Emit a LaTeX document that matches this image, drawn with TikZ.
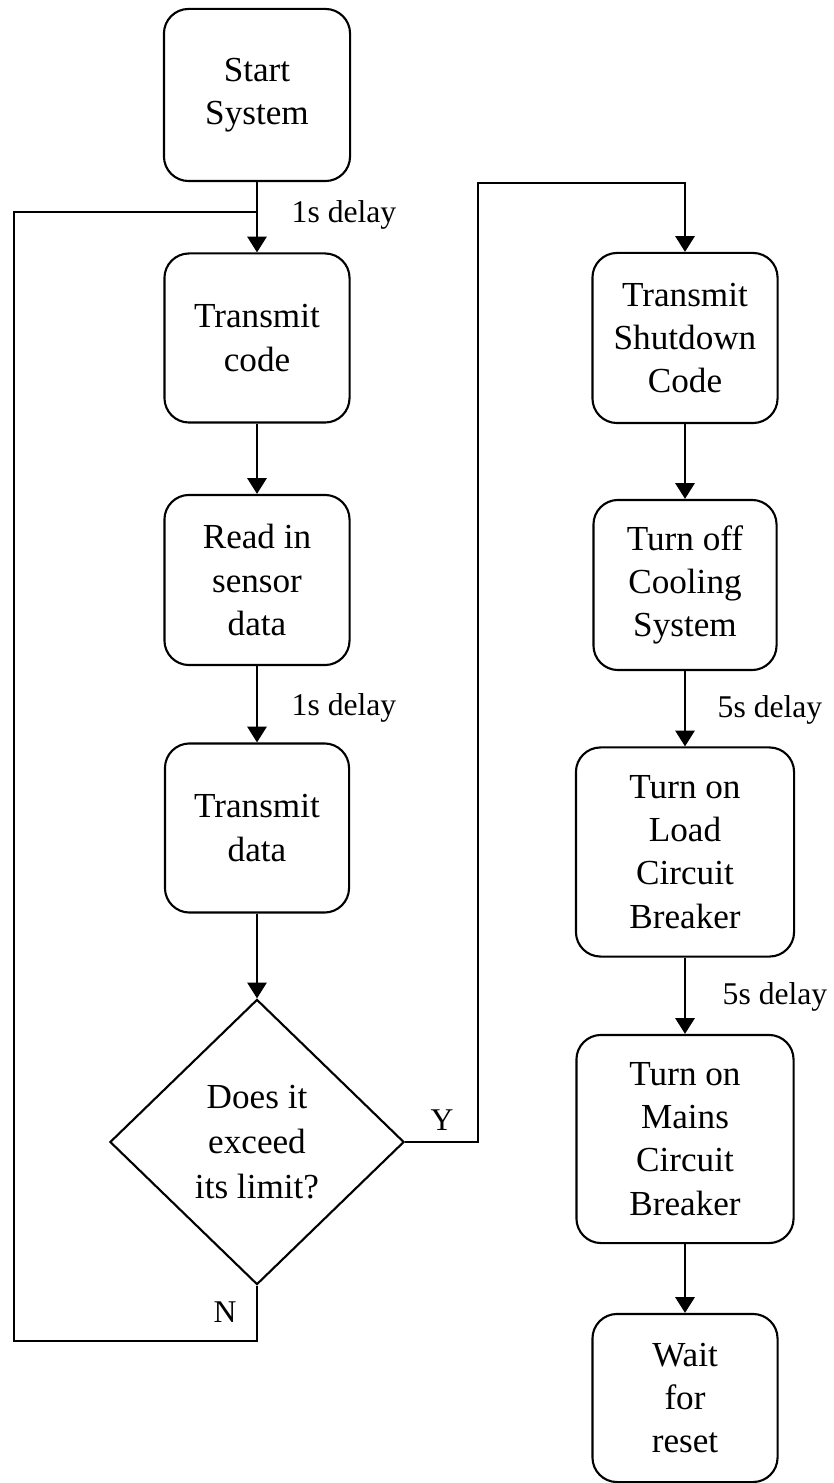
\documentclass[tikz,border=0pt]{standalone}
\usepackage{fontspec}
\setmainfont{Liberation Serif}
\usetikzlibrary{shapes.geometric, arrows.meta}

\begin{document}
\begin{tikzpicture}[x=0.01cm, y=-0.01cm]
  % 样式
  \tikzset{box/.style = {draw, rounded corners=7pt, line width=0.6pt, align=center, inner sep=0pt, font=\fontsize{10}{12.3}\selectfont}}
  \tikzset{decision/.style = {diamond, draw, line width=0.6pt, align=center, inner sep=0pt, minimum width=2.94cm, minimum height=2.85cm, font=\fontsize{10}{12.9}\selectfont}}
  \tikzset{arrow/.style = {draw, line width=0.6pt, -{Triangle[width=5.5pt,length=4.5pt]}}}
  \tikzset{line/.style = {draw, line width=0.6pt}}
  \tikzset{tag/.style = {inner sep=0pt, font=\fontsize{9}{11}\selectfont}}

  \useasboundingbox (0,0) rectangle (833,1483);

  % 左列
  \node[box, minimum width=1.86cm, minimum height=1.72cm] (start) at (257,95) {Start\\System};
  \node[box, minimum width=1.85cm, minimum height=1.69cm] (tcode) at (257,338) {Transmit\\code};
  \node[box, minimum width=1.85cm, minimum height=1.70cm] (sensor) at (257,580) {Read in\\sensor\\data};
  \node[box, minimum width=1.84cm, minimum height=1.69cm] (tdata) at (257,828) {Transmit\\data};
  \node[decision] (dec) at (257,1142) {Does it\\exceed\\its limit?};

  % 右列
  \node[box, minimum width=1.85cm, minimum height=1.70cm] (shut) at (685,338) {Transmit\\Shutdown\\Code};
  \node[box, minimum width=1.83cm, minimum height=1.70cm] (cool) at (685,585) {Turn off\\Cooling\\System};
  \node[box, minimum width=2.18cm, minimum height=2.09cm] (load) at (685,852) {Turn on\\Load\\Circuit\\Breaker};
  \node[box, minimum width=2.17cm, minimum height=2.08cm] (mains) at (685,1139) {Turn on\\Mains\\Circuit\\Breaker};
  \node[box, minimum width=1.85cm, minimum height=1.68cm] (wait) at (685,1398) {Wait\\for\\reset};

  % 标注
  \node[tag] (d1) at (344,215) {1s delay};
  \node[tag] (d2) at (344,708) {1s delay};
  \node[tag] (d3) at (770,710) {5s delay};
  \node[tag] (d4) at (775,997) {5s delay};
  \node[tag] (yes) at (442,1120) {Y};
  \node[tag] (no) at (225,1312) {N};

  % 拐点
  \coordinate (merge) at (257,212);
  \coordinate (nloop) at (14,1341);
  \coordinate (ybend) at (478,183);

  % 连线
  \draw[arrow] (start) -- (tcode);
  \draw[arrow] (tcode) -- (sensor);
  \draw[arrow] (sensor) -- (tdata);
  \draw[arrow] (tdata) -- (dec);
  \draw[line] (dec.south) |- (nloop) |- (merge);
  \draw[arrow] (dec.east) -| (ybend) -| (shut.north);
  \draw[arrow] (shut) -- (cool);
  \draw[arrow] (cool) -- (load);
  \draw[arrow] (load) -- (mains);
  \draw[arrow] (mains) -- (wait);
\end{tikzpicture}
\end{document}
